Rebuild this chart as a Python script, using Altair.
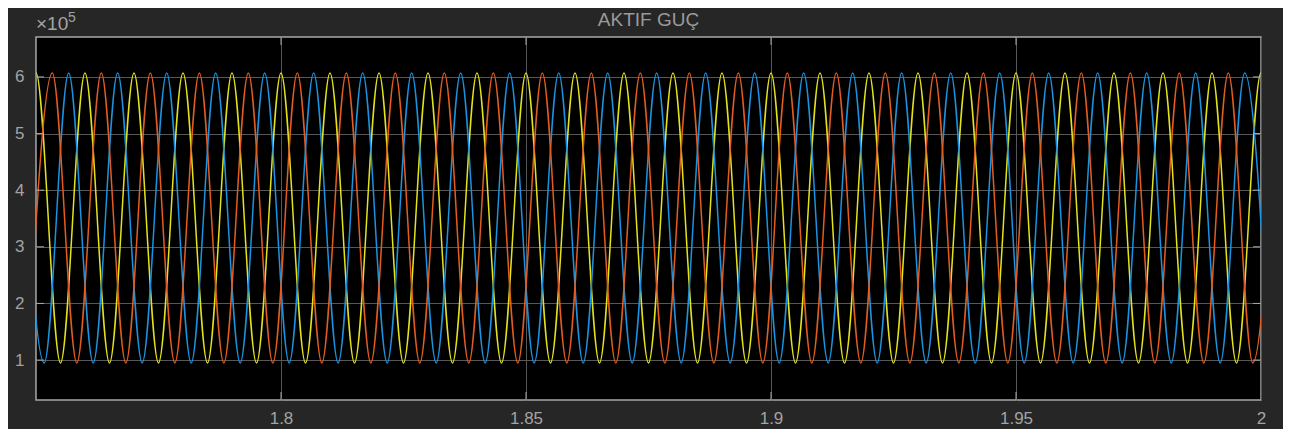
import altair as alt
import pandas as pd

# ---- data (time in s, power in W) ----
title_text = "AKTIF GUÇ"
series_names = ["sarı", "mavi", "turuncu"]          # yellow, blue, orange (draw order)
series_colors = ["#e3e31c", "#1b93e0", "#e35d20"]
peak_level = [607000, 607000, 607000]
trough_level = [95000, 95000, 95000]

yellow_peaks = [1.750, 1.760, 1.770, 1.780, 1.790, 1.800, 1.810, 1.820, 1.830, 1.840,
                1.850, 1.860, 1.870, 1.880, 1.890, 1.900, 1.910, 1.920, 1.930, 1.940,
                1.950, 1.960, 1.970, 1.980, 1.990, 2.000]
yellow_troughs = [1.745, 1.755, 1.765, 1.775, 1.785, 1.795, 1.805, 1.815, 1.825, 1.835,
                  1.845, 1.855, 1.865, 1.875, 1.885, 1.895, 1.905, 1.915, 1.925, 1.935,
                  1.945, 1.955, 1.965, 1.975, 1.985, 1.995, 2.005]
blue_peaks = [1.74667, 1.75667, 1.76667, 1.77667, 1.78667, 1.79667, 1.80667, 1.81667,
              1.82667, 1.83667, 1.84667, 1.85667, 1.86667, 1.87667, 1.88667, 1.89667,
              1.90667, 1.91667, 1.92667, 1.93667, 1.94667, 1.95667, 1.96667, 1.97667,
              1.98667, 1.99667]
blue_troughs = [1.75167, 1.76167, 1.77167, 1.78167, 1.79167, 1.80167, 1.81167, 1.82167,
                1.83167, 1.84167, 1.85167, 1.86167, 1.87167, 1.88167, 1.89167, 1.90167,
                1.91167, 1.92167, 1.93167, 1.94167, 1.95167, 1.96167, 1.97167, 1.98167,
                1.99167, 2.00167]
orange_peaks = [1.75333, 1.76333, 1.77333, 1.78333, 1.79333, 1.80333, 1.81333, 1.82333,
                1.83333, 1.84333, 1.85333, 1.86333, 1.87333, 1.88333, 1.89333, 1.90333,
                1.91333, 1.92333, 1.93333, 1.94333, 1.95333, 1.96333, 1.97333, 1.98333,
                1.99333, 2.00333]
orange_troughs = [1.74833, 1.75833, 1.76833, 1.77833, 1.78833, 1.79833, 1.80833, 1.81833,
                  1.82833, 1.83833, 1.84833, 1.85833, 1.86833, 1.87833, 1.88833, 1.89833,
                  1.90833, 1.91833, 1.92833, 1.93833, 1.94833, 1.95833, 1.96833, 1.97833,
                  1.98833, 1.99833]

x_ticks = [1.8, 1.85, 1.9, 1.95, 2.0]
y_ticks = [100000, 200000, 300000, 400000, 500000, 600000]
x_domain = [1.75, 2.0]
y_domain = [29500, 670500]

# ---- build table ----
rows = []
peaks = [yellow_peaks, blue_peaks, orange_peaks]
troughs = [yellow_troughs, blue_troughs, orange_troughs]
for i, name in enumerate(series_names):
    for t in peaks[i]:
        rows.append({"seri": name, "t": t, "P": peak_level[i]})
    for t in troughs[i]:
        rows.append({"seri": name, "t": t, "P": trough_level[i]})
df = pd.DataFrame(rows).sort_values(["seri", "t"]).reset_index(drop=True)

W, H = 1225, 363
GRID = "#575757"
FRAME = "#a8a8a8"
TXT = "#a3a3a3"
FONT = "Liberation Sans"

xs = alt.Scale(domain=x_domain, nice=False, zero=False)
ys = alt.Scale(domain=y_domain, nice=False, zero=False)

layers = []
for i, name in enumerate(series_names):
    enc = dict(
        x=alt.X("t:Q", scale=xs,
                axis=alt.Axis(values=x_ticks, format="~g", title=None, grid=True,
                              gridColor=GRID, gridWidth=1, domain=False, ticks=False,
                              labelColor=TXT, labelFontSize=17, labelFont=FONT,
                              labelPadding=10, labelFlush=False)),
        y=alt.Y("P:Q", scale=ys,
                axis=alt.Axis(values=y_ticks, labelExpr="datum.value / 100000", title=None,
                              grid=True, gridColor=GRID, gridWidth=1, domain=False,
                              ticks=False, labelColor=TXT, labelFontSize=17,
                              labelFont=FONT, labelPadding=12)),
        order=alt.Order("t:Q"),
    )
    layers.append(
        alt.Chart(df).transform_filter(alt.datum.seri == name)
        .mark_line(clip=True, interpolate="monotone", strokeWidth=1.5, color=series_colors[i])
        .encode(**enc)
    )

# inward tick marks (MATLAB style)
xt = pd.DataFrame({"t": x_ticks[:-1]})
yt = pd.DataFrame({"P": y_ticks})
tick_bottom = alt.Chart(xt).mark_rule(color=FRAME, strokeWidth=1).encode(
    x=alt.X("t:Q", scale=xs), y=alt.value(H), y2=alt.value(H - 8))
tick_top = alt.Chart(xt).mark_rule(color=FRAME, strokeWidth=1).encode(
    x=alt.X("t:Q", scale=xs), y=alt.value(0), y2=alt.value(8))
tick_left = alt.Chart(yt).mark_rule(color=FRAME, strokeWidth=1).encode(
    y=alt.Y("P:Q", scale=ys), x=alt.value(0), x2=alt.value(8))
tick_right = alt.Chart(yt).mark_rule(color=FRAME, strokeWidth=1).encode(
    y=alt.Y("P:Q", scale=ys), x=alt.value(W), x2=alt.value(W - 8))

title = alt.Chart(pd.DataFrame({"s": [title_text]})).mark_text(
    font=FONT, fontSize=19, color="#9a9a9a", align="center", baseline="alphabetic"
).encode(text="s:N", x=alt.value(W / 2), y=alt.value(-11))

exp_base = alt.Chart(pd.DataFrame({"s": ["×10"]})).mark_text(
    font=FONT, fontSize=19, color=TXT, align="left", baseline="alphabetic"
).encode(text="s:N", x=alt.value(0), y=alt.value(-7))
exp_sup = alt.Chart(pd.DataFrame({"s": ["5"]})).mark_text(
    font=FONT, fontSize=14, color=TXT, align="left", baseline="alphabetic"
).encode(text="s:N", x=alt.value(32), y=alt.value(-15))

chart = alt.layer(*layers, tick_bottom, tick_top, tick_left, tick_right,
                  title, exp_base, exp_sup).properties(
    width=W, height=H,
    autosize=alt.AutoSizeParams(type="none"),
    padding={"left": 28, "top": 29, "right": 22, "bottom": 29},
    background="#262626",
).configure_view(fill="black", stroke=FRAME, strokeWidth=1.5)

chart.save("out.html", embed_options={"renderer": "svg", "actions": False})
